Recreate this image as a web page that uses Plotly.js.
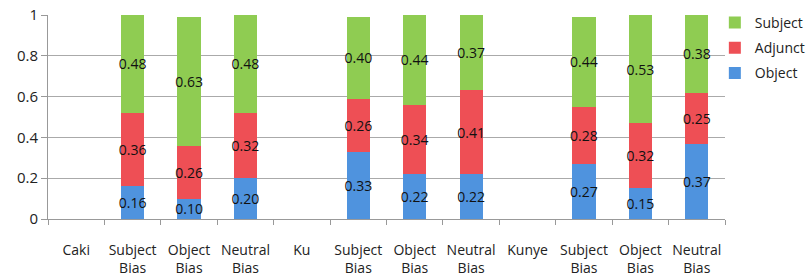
<!DOCTYPE html>
<html>
<head>
<meta charset="utf-8">
<script src="https://cdn.plot.ly/plotly-3.0.1.min.js"></script>
<style>html,body{margin:0;padding:0;background:#fff;}#chart{width:811px;height:278px;}</style>
</head>
<body>
<div id="chart"></div>
<script>
// Category tick labels (group headers have no bars)
var tickLabels = ['Caki', 'Subject<br>Bias', 'Object<br>Bias', 'Neutral<br>Bias',
                  'Ku', 'Subject<br>Bias', 'Object<br>Bias', 'Neutral<br>Bias',
                  'Kunye', 'Subject<br>Bias', 'Object<br>Bias', 'Neutral<br>Bias'];
var seriesNames = ['Object', 'Adjunct', 'Subject'];
var objectVals  = [null, 0.16, 0.10, 0.20, null, 0.33, 0.22, 0.22, null, 0.27, 0.15, 0.37];
var adjunctVals = [null, 0.36, 0.26, 0.32, null, 0.26, 0.34, 0.41, null, 0.28, 0.32, 0.25];
var subjectVals = [null, 0.48, 0.63, 0.48, null, 0.40, 0.44, 0.37, null, 0.44, 0.53, 0.38];
var seriesColors = ['#4f93de', '#ee4f55', '#8fcc52'];

// unique category keys (repeated labels must stay distinct)
var cats = tickLabels.map(function (t, i) { return t + '\u200b'.repeat(Math.floor(i / 4)); });

var allVals = [objectVals, adjunctVals, subjectVals];
var traces = allVals.map(function (vals, k) {
  return {
    type: 'bar',
    name: seriesNames[k],
    legendgroup: seriesNames[k],
    legendrank: 3 - k,
    x: cats,
    y: vals,
    marker: {color: seriesColors[k], line: {width: 0}},
    text: vals.map(function (v) { return v == null ? '' : v.toFixed(2); }),
    texttemplate: '%{text}',
    textposition: 'inside',
    insidetextanchor: 'middle',
    textangle: 0,
    constraintext: 'none',
    insidetextfont: {family: 'Open Sans', size: 14, color: '#111'},
    hoverinfo: 'skip'
  };
});

var layout = {
  width: 811, height: 278,
  margin: {l: 48, r: 86, t: 15, b: 59, autoexpand: false},
  barmode: 'stack',
  bargap: 0.59,
  paper_bgcolor: '#fff', plot_bgcolor: '#fff',
  font: {family: 'Open Sans', size: 14, color: '#222'},
  showlegend: true,
  legend: {x: 0.985, xanchor: 'left', yref: 'container', y: 0.975, yanchor: 'top',
           traceorder: 'grouped',
           tracegroupgap: 4, font: {family: 'Open Sans', size: 14, color: '#222'},
           bgcolor: 'rgba(0,0,0,0)'},
  xaxis: {type: 'category', tickson: 'boundaries', ticks: 'outside', ticklen: 5,
          tickcolor: '#999', showgrid: false, showline: true, linecolor: '#999',
          tickangle: 0,
          tickfont: {family: 'Open Sans', size: 14, color: '#222'},
          ticklabelstandoff: 18, fixedrange: true},
  yaxis: {range: [0, 1], dtick: 0.2, ticks: 'outside', ticklen: 6,
          tickcolor: '#999', showgrid: true, gridcolor: '#aaa', gridwidth: 1,
          showline: true, linecolor: '#999', zeroline: false,
          tickfont: {family: 'Open Sans', size: 15, color: '#222'}, fixedrange: true}
};

Plotly.newPlot('chart', traces, layout, {displayModeBar: false, staticPlot: true});
</script>
</body>
</html>
